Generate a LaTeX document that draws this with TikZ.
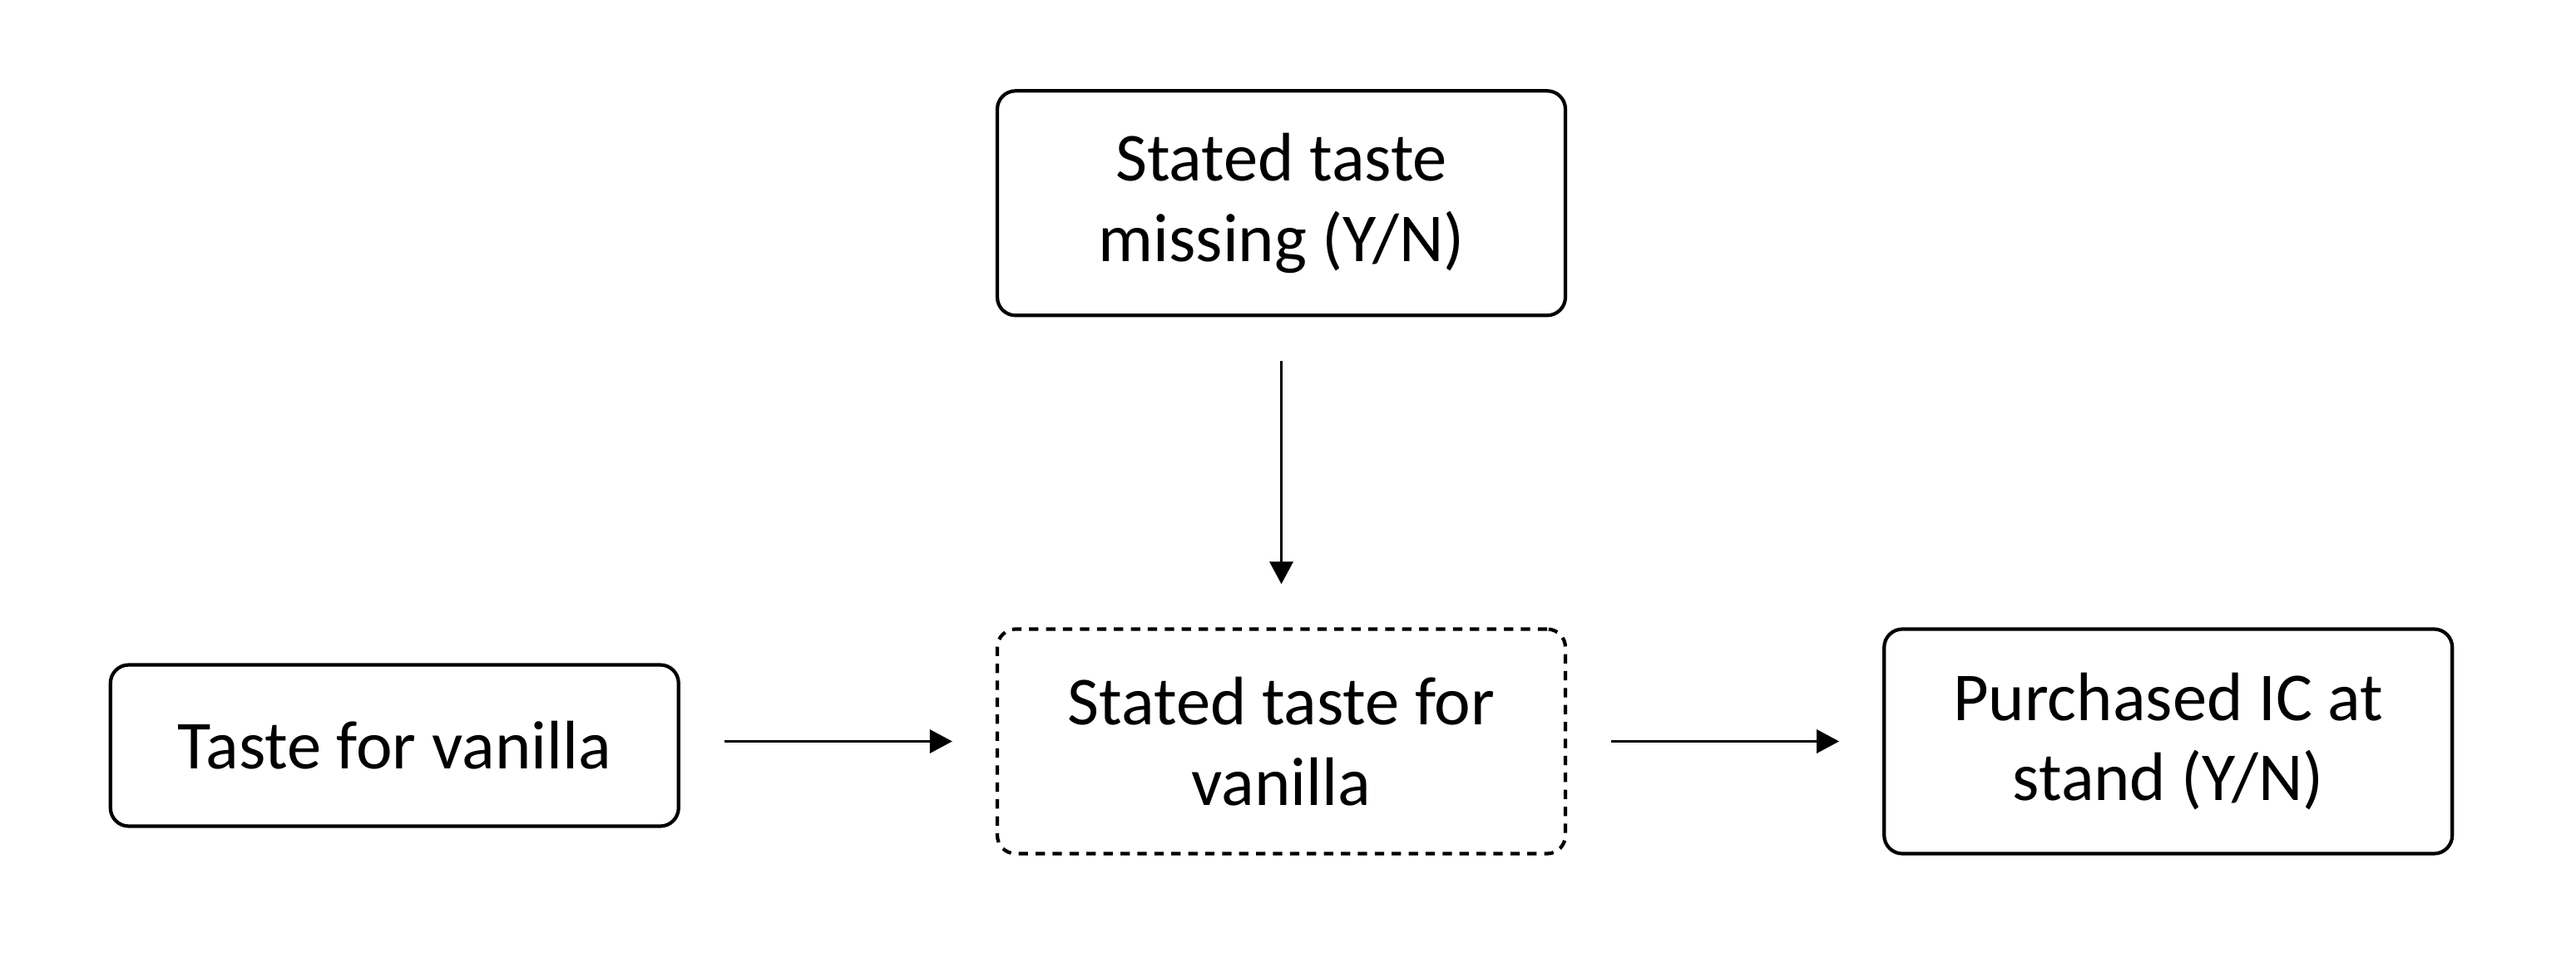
\documentclass[tikz,border=0pt]{standalone}
\usepackage{fontspec}
\setmainfont{Carlito}
\usepackage{tikz}
\usetikzlibrary{arrows.meta, positioning}

\begin{document}
\begin{tikzpicture}[font=\fontsize{23.5}{27.5}\selectfont, node distance=3.79cm,
        vbox/.style={draw, line width=1.2pt, rounded corners=0.22cm,
                     minimum width=6.83cm, minimum height=2.7cm,
                     align=center, inner sep=2pt},
        flow/.style={-{Triangle[length=2.7mm, width=2.8mm]}, line width=1pt,
                     shorten >=0.52cm, shorten <=0.53cm}]
      \useasboundingbox (0,0) rectangle (30.97,11.51);
      \node[vbox, dash pattern=on 3.2pt off 2.6pt] (stated) at (15.405,2.595)
        {Stated taste for\\vanilla};
      \node[vbox, above=3.73cm of stated] (missing)
        {Stated taste\\missing (Y/N)};
      \node[vbox, left=of stated, yshift=-0.05cm, minimum height=1.94cm] (taste)
        {Taste for vanilla};
      \node[vbox, right=of stated] (bought)
        {Purchased IC at\\stand (Y/N)};
      \draw[flow] (missing) -- (stated);
      \draw[flow] (taste.east |- stated) -- (stated);
      \draw[flow] (stated) -- (bought);
    \end{tikzpicture}
\end{document}
